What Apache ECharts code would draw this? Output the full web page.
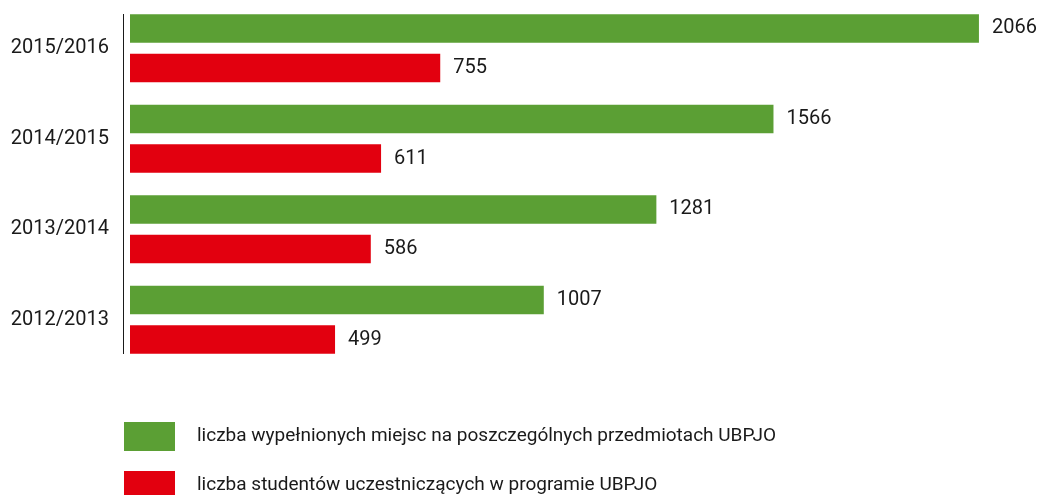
<!DOCTYPE html>
<html>
<head>
<meta charset="utf-8">
<script src="https://cdn.jsdelivr.net/npm/echarts@6/dist/echarts.min.js"></script>
<style>
  html, body { margin: 0; padding: 0; background: #fff; }
  #chart { width: 1043px; height: 495px; }
</style>
</head>
<body>
<div id="chart"></div>
<script>
// lata akademickie, od góry
const years = ['2015/2016', '2014/2015', '2013/2014', '2012/2013']
// liczba wypełnionych miejsc
const filledSeats = [2066, 1566, 1281, 1007]
// liczba studentów
const students = [755, 611, 586, 499]

const seriesNames = [
  'liczba wypełnionych miejsc na poszczególnych przedmiotach UBPJO',
  'liczba studentów uczestniczących w programie UBPJO',
]

const chart = echarts.init(document.getElementById('chart'))

const labelStyle = {
  show: true,
  position: 'right',
  distance: 13,
  color: '#1a1a1a',
  fontFamily: 'Roboto',
  fontSize: 20,
}

// legenda - każdy wpis osobno, bo na dole brakuje miejsca
function legendItem(name, top) {
  return {
    left: 119,
    top: top,
    itemWidth: 51,
    itemHeight: 29,
    icon: 'rect',
    data: [name],
    textStyle: {
      color: '#1a1a1a',
      fontFamily: 'Roboto',
      fontSize: 19,
      padding: [0, 0, 0, 17],
    },
  }
}

chart.setOption({
  animation: false,
  grid: {
    left: 130,
    top: 3,
    width: 904,
    height: 362,
  },
  xAxis: {
    type: 'value',
    min: 0,
    max: 2200,
    show: false,
  },
  yAxis: {
    type: 'category',
    data: years,
    inverse: true,
    axisLine: { show: false },
    axisTick: { show: false },
    axisLabel: {
      margin: 21,
      color: '#1a1a1a',
      fontFamily: 'Roboto',
      fontSize: 20,
    },
  },
  legend: [legendItem(seriesNames[0], 417), legendItem(seriesNames[1], 466)],
  // oś pionowa jako osobna kreska
  graphic: [
    {
      type: 'line',
      shape: { x1: 123.5, y1: 14, x2: 123.5, y2: 354 },
      style: { stroke: '#1a1a1a', lineWidth: 1 },
    },
  ],
  series: [
    {
      name: seriesNames[0],
      type: 'bar',
      data: filledSeats,
      barWidth: 28.5,
      barGap: '39%',
      itemStyle: { color: '#5b9f34' },
      label: labelStyle,
    },
    {
      name: seriesNames[1],
      type: 'bar',
      data: students,
      barWidth: 28.5,
      itemStyle: { color: '#e2000f' },
      label: labelStyle,
    },
  ],
})
</script>
</body>
</html>
